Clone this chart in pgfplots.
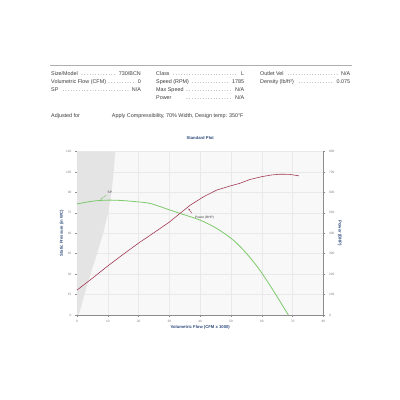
\documentclass[border=0pt]{standalone}
\usepackage{pgfplots}
\pgfplotsset{compat=1.18}
\usepackage{fontspec}
\setmainfont{Liberation Sans}
\usetikzlibrary{arrows.meta}
\definecolor{titleblue}{HTML}{2F4B7C}
\definecolor{spgreen}{HTML}{7DC96B}
\definecolor{pwred}{HTML}{A33A55}
\definecolor{bggray}{HTML}{F8F8F8}
\definecolor{shade}{HTML}{E4E4E4}
\definecolor{gridc}{HTML}{E9E9E9}
\definecolor{axc}{HTML}{8C8C8C}
\definecolor{hdr}{HTML}{3A3A3A}
\newcommand{\hfont}{\fontsize{5.4}{6}\selectfont}
\newcommand{\tfont}{\fontsize{3.2}{3.6}\selectfont}
\newcommand{\lfont}{\fontsize{4.2}{5}\selectfont\bfseries}
\newcommand{\dl}{\ \leaders\hbox to 2.7pt{\hss.\hss}\hfill\ }
\begin{document}
\begin{tikzpicture}
\useasboundingbox (0pt,0pt) rectangle (400pt,400pt);
\draw[axc!70, line width=0.5pt] (50pt,334.3pt) -- (352pt,334.3pt);
\begin{scope}[every node/.style={anchor=west, inner sep=0, font=\hfont, text=hdr}]
\node at (51pt,326.7pt) {\makebox[89.7pt]{Size/Model\dl 730/BCN}};
\node at (51pt,318.3pt) {\makebox[89.7pt]{Volumetric Flow (CFM)\dl 0}};
\node at (51pt,310.0pt) {\makebox[89.7pt]{SP\dl N/A}};
\node at (156pt,326.7pt) {\makebox[88pt]{Class\dl L}};
\node at (156pt,318.3pt) {\makebox[88pt]{Speed (RPM)\dl 1785}};
\node at (156pt,310.0pt) {\makebox[88pt]{Max Speed\dl N/A}};
\node at (156pt,302.7pt) {\makebox[88pt]{Power\qquad\dl N/A}};
\node at (260pt,326.7pt) {\makebox[90pt]{Outlet Vel\dl N/A}};
\node at (260pt,318.3pt) {\makebox[90pt]{Density (lb/ft³)\dl 0.075}};
\node at (51pt,284pt) {Adjusted for};
\node at (111.7pt,284pt) {Apply Compressibility, 70\% Width, Design temp: 350°F};
\end{scope}
\pgfplotsset{
  common/.style={
    at={(77pt,85pt)}, anchor=south west,
    scale only axis, width=246.5pt, height=163.5pt,
    xmin=0, xmax=80,
    axis line style={axc, line width=0.6pt},
    tick style={axc, line width=0.4pt},
    tick align=outside, major tick length=2pt,
    ticklabel style={font=\tfont, text=gray},
    /pgf/number format/assume math mode=true,
    label style={font=\lfont, text=titleblue},
  }
}
\begin{axis}[common,
  ymin=0, ymax=120,
  xtick={0,10,...,80}, ytick={0,15,...,120},
  axis x line*=bottom, axis y line*=left,
  grid=major, grid style={gridc, line width=0.4pt},
  axis background/.style={fill=bggray},
  xlabel={Volumetric Flow (CFM x 1000)},
  ylabel={Static Pressure (in WC)},
  xlabel style={at={(axis description cs:0.5,-0.073)}, anchor=center},
  ylabel style={at={(axis description cs:-0.062,0.5)}, anchor=center},
  title={Standard Plot},
  title style={font=\lfont, text=titleblue, at={(axis description cs:0.5,1.043)}, anchor=center},
  clip=true,
]
\addplot[draw=none, fill=shade] coordinates {
  (0,0) (0.5,0) (1.2,5) (2.4,15) (4.4,30) (6.5,45) (8.5,60) (10.1,75) (11.2,90) (11.9,105) (12.4,120) (0,120)
} -- cycle;
\addplot[spgreen, line width=0.8pt, smooth] coordinates {
  (0,81.5) (3,82.8) (6,83.8) (10,84.3) (14,84.1) (18,83.4) (23.7,81.9) (30.2,77)
  (34.5,73.8) (40,69.6) (45.3,63.6) (50.7,55) (55,45.2) (59.3,33) (63.6,18.3) (68.6,0)
};
\draw[spgreen, line width=0.4pt, -{Latex[length=2pt,width=1.6pt]}] (axis cs:9.5,88) -- (axis cs:7.5,84.6);
\node[anchor=west, inner sep=0, font=\fontsize{3.2}{3.6}\selectfont, text=hdr] at (axis cs:9.9,89.7) {SP};
\end{axis}
\begin{axis}[common,
  ymin=0, ymax=800, ytick={0,100,...,800},
  axis y line*=right, axis x line=none,
  ylabel={Power (BHP)},
  ylabel style={at={(axis description cs:1.066,0.5)}, anchor=center, rotate=180},
]
\addplot[pwred, line width=0.6pt] coordinates {
  (0,122) (5,180) (10,240) (15,297) (20,352) (25,403) (30,455) (33.4,497) (36.7,537)
  (41,578) (45.3,611) (49.6,631) (52.8,644) (56.1,663) (60,677) (63,685) (66,689) (69,688) (72,681)
};
\draw[pwred, line width=0.4pt, -{Latex[length=2pt,width=1.6pt]}] (axis cs:37.3,498) -- (axis cs:36.1,522);
\node[anchor=west, inner sep=0, font=\fontsize{3.2}{3.6}\selectfont, text=hdr] at (axis cs:38.3,477) {Power (BHP)};
\end{axis}
\end{tikzpicture}
\end{document}
